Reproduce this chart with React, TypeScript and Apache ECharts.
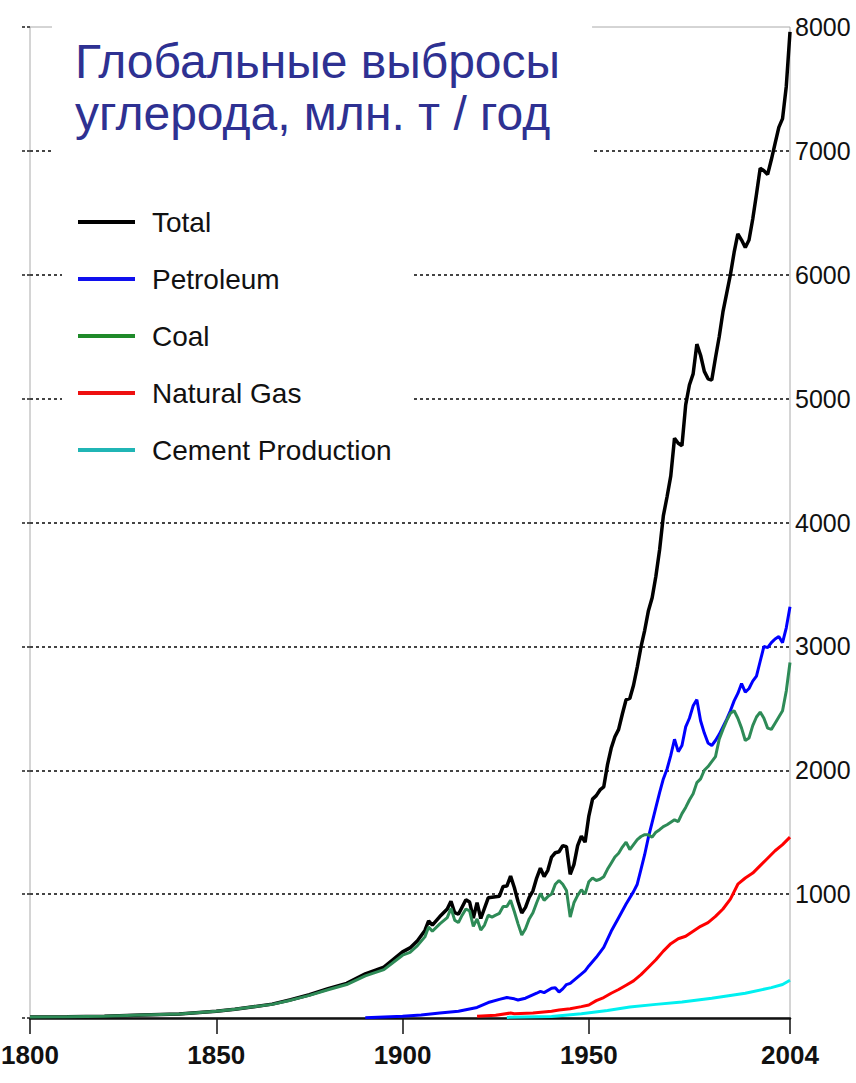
import React, { useEffect, useRef } from "react";
import * as echarts from "echarts";

const titleText = "Глобальные выбросы\nуглерода, млн. т / год";
const seriesNames = ["Total", "Petroleum", "Coal", "Natural Gas", "Cement Production"];
const xTicks = [1800, 1850, 1900, 1950, 2004];
const yTicks = [1000, 2000, 3000, 4000, 5000, 6000, 7000, 8000];

const total: [number, number][] = [
  [1800, 8], [1810, 10], [1820, 14], [1830, 24], [1840, 33], [1850, 54], [1855, 70], [1860, 91],
  [1865, 112], [1870, 147], [1875, 188], [1880, 236], [1885, 280], [1890, 356], [1895, 410],
  [1900, 534], [1902, 566], [1904, 624], [1906, 707], [1907, 784], [1908, 750], [1910, 819],
  [1912, 879], [1913, 943], [1914, 850], [1915, 838], [1917, 955], [1918, 936], [1919, 806],
  [1920, 932], [1921, 803], [1923, 970], [1926, 983], [1927, 1062], [1928, 1065], [1929, 1145],
  [1930, 1053], [1931, 940], [1932, 847], [1933, 893], [1934, 973], [1935, 1027], [1936, 1130],
  [1937, 1209], [1938, 1142], [1939, 1192], [1940, 1299], [1941, 1334], [1942, 1342], [1943, 1391],
  [1944, 1383], [1945, 1160], [1946, 1238], [1947, 1392], [1948, 1469], [1949, 1419], [1950, 1630],
  [1951, 1767], [1952, 1795], [1953, 1841], [1954, 1865], [1955, 2043], [1956, 2177], [1957, 2270],
  [1958, 2330], [1959, 2454], [1960, 2569], [1961, 2580], [1962, 2686], [1963, 2833], [1964, 2995],
  [1965, 3130], [1966, 3288], [1967, 3393], [1968, 3566], [1969, 3780], [1970, 4053], [1971, 4208],
  [1972, 4376], [1973, 4680], [1974, 4640], [1975, 4620], [1976, 4950], [1977, 5110], [1978, 5200],
  [1979, 5440], [1980, 5350], [1981, 5220], [1982, 5160], [1983, 5150], [1984, 5330], [1985, 5500],
  [1986, 5700], [1987, 5850], [1988, 6000], [1989, 6180], [1990, 6330], [1991, 6280], [1992, 6220],
  [1993, 6280], [1994, 6450], [1995, 6650], [1996, 6860], [1997, 6840], [1998, 6810], [1999, 6930],
  [2000, 7060], [2001, 7190], [2002, 7260], [2003, 7520], [2004, 7960],
];

const petroleum: [number, number][] = [
  [1890, 3], [1900, 15], [1905, 25], [1910, 40], [1915, 55], [1920, 85], [1923, 125], [1926, 150],
  [1928, 165], [1930, 155], [1931, 145], [1933, 160], [1936, 200], [1937, 215], [1938, 205],
  [1940, 240], [1941, 245], [1942, 210], [1943, 235], [1944, 270], [1945, 280], [1947, 330],
  [1949, 380], [1950, 420], [1952, 490], [1954, 570], [1956, 700], [1958, 810], [1960, 920],
  [1962, 1020], [1963, 1080], [1964, 1200], [1965, 1320], [1966, 1460], [1967, 1580], [1968, 1700],
  [1969, 1820], [1970, 1930], [1971, 2010], [1972, 2120], [1973, 2250], [1974, 2150], [1975, 2200],
  [1976, 2350], [1977, 2420], [1978, 2520], [1979, 2570], [1980, 2400], [1981, 2300], [1982, 2220],
  [1983, 2200], [1984, 2240], [1985, 2290], [1986, 2350], [1987, 2410], [1988, 2480], [1989, 2560],
  [1990, 2620], [1991, 2700], [1992, 2630], [1993, 2660], [1994, 2720], [1995, 2760], [1996, 2880],
  [1997, 3000], [1998, 2990], [1999, 3030], [2000, 3060], [2001, 3080], [2002, 3030], [2003, 3150],
  [2004, 3320],
];

const coal: [number, number][] = [
  [1800, 8], [1810, 10], [1820, 14], [1830, 24], [1840, 33], [1850, 54], [1855, 70], [1860, 90],
  [1865, 110], [1870, 144], [1875, 183], [1880, 228], [1885, 270], [1890, 340], [1895, 390],
  [1900, 507], [1902, 530], [1904, 585], [1906, 655], [1907, 735], [1908, 700], [1910, 760],
  [1912, 810], [1913, 885], [1914, 790], [1915, 770], [1916, 830], [1917, 880], [1918, 865],
  [1919, 740], [1920, 800], [1921, 710], [1922, 750], [1923, 830], [1924, 815], [1925, 830],
  [1926, 845], [1927, 900], [1928, 900], [1929, 950], [1930, 860], [1931, 760], [1932, 670],
  [1933, 720], [1934, 800], [1935, 850], [1936, 930], [1937, 1005], [1938, 950], [1939, 980],
  [1940, 1000], [1941, 1080], [1942, 1110], [1943, 1080], [1944, 1030], [1945, 815], [1946, 930],
  [1947, 990], [1948, 1035], [1949, 1000], [1950, 1100], [1951, 1130], [1952, 1110], [1953, 1120],
  [1954, 1140], [1955, 1200], [1956, 1250], [1957, 1300], [1958, 1330], [1959, 1380], [1960, 1420],
  [1961, 1360], [1962, 1400], [1963, 1440], [1964, 1465], [1965, 1480], [1966, 1480], [1967, 1460],
  [1968, 1500], [1969, 1520], [1970, 1545], [1971, 1560], [1972, 1580], [1973, 1600], [1974, 1585],
  [1975, 1650], [1976, 1700], [1977, 1760], [1978, 1810], [1979, 1900], [1980, 1930], [1981, 2000],
  [1982, 2030], [1983, 2070], [1984, 2110], [1985, 2250], [1986, 2330], [1987, 2400], [1988, 2460],
  [1989, 2480], [1990, 2420], [1991, 2340], [1992, 2240], [1993, 2260], [1994, 2360], [1995, 2430],
  [1996, 2470], [1997, 2420], [1998, 2340], [1999, 2330], [2000, 2380], [2001, 2430], [2002, 2480],
  [2003, 2640], [2004, 2870],
];

const naturalGas: [number, number][] = [
  [1920, 15], [1925, 22], [1929, 40], [1930, 35], [1935, 40], [1940, 55], [1942, 65], [1945, 75],
  [1948, 92], [1950, 105], [1952, 140], [1954, 165], [1956, 200], [1958, 230], [1960, 265],
  [1962, 300], [1964, 350], [1966, 410], [1968, 470], [1970, 540], [1972, 600], [1974, 640],
  [1976, 660], [1978, 700], [1980, 740], [1982, 770], [1984, 820], [1986, 880], [1988, 960],
  [1990, 1080], [1992, 1130], [1994, 1170], [1996, 1230], [1998, 1290], [2000, 1350], [2002, 1400],
  [2004, 1460],
];

const cement: [number, number][] = [
  [1928, 5], [1940, 12], [1948, 35], [1955, 60], [1961, 88], [1968, 110], [1975, 130], [1983, 160],
  [1992, 200], [1999, 245], [2002, 270], [2004, 305],
];

const seriesColors = ["#000000", "#0000ff", "#2e8b57", "#ff0000", "#00f0f0"];
const legendColors = ["#000000", "#1010ee", "#1f8a2a", "#ee1010", "#20b5b5"];
const seriesData = [total, petroleum, coal, naturalGas, cement];

const sans = "'Liberation Sans', Arial, sans-serif";

export default function App() {
  const ref = useRef<HTMLDivElement>(null);
  useEffect(() => {
    if (!ref.current) return;
    const chart = echarts.init(ref.current, undefined, { renderer: "svg" });
    chart.setOption({
      animation: false,
      backgroundColor: "#ffffff",
      title: {
        text: titleText,
        left: 52,
        top: 0,
        padding: [35, 32, 16, 23],
        backgroundColor: "#ffffff",
        textStyle: {
          color: "#2e3192",
          fontSize: 48,
          lineHeight: 52,
          fontWeight: "normal",
          fontFamily: sans,
        },
        z: 10,
      },
      legend: {
        orient: "vertical",
        left: 62,
        top: 190,
        padding: [12, 20, 10, 16],
        backgroundColor: "#ffffff",
        itemWidth: 57,
        itemHeight: 4,
        itemGap: 17,
        icon: "rect",
        data: seriesNames.map((n, i) => ({ name: n, itemStyle: { color: legendColors[i] } })),
        textStyle: {
          fontFamily: sans,
          fontSize: 28,
          lineHeight: 40,
          color: "#111",
          padding: [0, 0, 0, 12],
        },
        z: 10,
      },
      grid: {
        left: 30,
        right: 66,
        top: 27,
        bottom: 65,
        outerBoundsMode: "none",
        containLabel: false,
        show: true,
        borderColor: "#aaaaaa",
        borderWidth: 1,
      },
      xAxis: {
        type: "value",
        min: 1800,
        max: 2004,
        axisLine: { show: true, lineStyle: { color: "#111", width: 2.5 } },
        axisTick: {
          show: true,
          customValues: xTicks,
          length: 16,
          lineStyle: { color: "#111", width: 1.5 },
        },
        axisLabel: {
          customValues: xTicks,
          formatter: (v: number) => String(v),
          fontFamily: sans,
          fontSize: 26,
          fontWeight: "bold",
          color: "#111",
          margin: 24,
        },
        splitLine: { show: false },
      },
      yAxis: [
        {
          type: "value",
          position: "right",
          min: 0,
          max: 8000,
          interval: 1000,
          axisLine: { show: false },
          axisTick: { show: false },
          axisLabel: {
            customValues: yTicks,
            formatter: (v: number) => (v === 0 ? "" : String(v)),
            fontFamily: sans,
            fontSize: 25,
            color: "#111",
            margin: 5,
          },
          splitLine: {
            show: true,
            showMinLine: false,
            showMaxLine: false,
            lineStyle: { color: "#444", width: 2, type: [3, 3] },
          },
        },
        {
          type: "value",
          position: "left",
          min: 0,
          max: 8000,
          interval: 1000,
          axisLine: { show: false },
          axisLabel: { show: false },
          axisTick: {
            show: true,
            length: 9,
            lineStyle: { color: "#555", width: 2, type: [3, 2] },
          },
          splitLine: { show: false },
        },
      ],
      series: seriesNames.map((n, i) => ({
        name: n,
        type: "line",
        data: seriesData[i],
        showSymbol: false,
        symbol: "none",
        lineStyle: { color: seriesColors[i], width: i === 0 ? 3.5 : 3 },
        itemStyle: { color: seriesColors[i] },
        z: 3,
      })),
    });
    return () => chart.dispose();
  }, []);
  return (
    <div
      ref={ref}
      style={{ position: "fixed", left: 0, top: 0, width: 856, height: 1083, background: "#fff" }}
    />
  );
}
